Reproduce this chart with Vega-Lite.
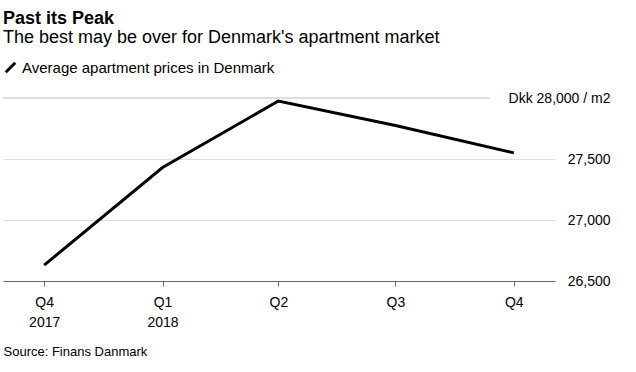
{
  "$schema": "https://vega.github.io/schema/vega-lite/v6.json",
  "width": 552,
  "height": 183,
  "autosize": "none",
  "padding": {"left": 3, "top": 98, "right": 81, "bottom": 91},
  "background": "white",
  "config": {
    "font": "Liberation Sans",
    "view": {"stroke": null}
  },
  "title": {
    "text": "Past its Peak",
    "subtitle": "The best may be over for Denmark's apartment market",
    "anchor": "start",
    "frame": "group",
    "fontSize": 18,
    "fontWeight": "bold",
    "color": "#000000",
    "subtitleFontSize": 18,
    "subtitleColor": "#000000",
    "subtitlePadding": 1,
    "offset": 13
  },
  "data": {
    "values": [
      {"date": "2017-10-01", "price": 26630, "series": "Average apartment prices in Denmark"},
      {"date": "2018-01-01", "price": 27430, "series": "Average apartment prices in Denmark"},
      {"date": "2018-04-01", "price": 27975, "series": "Average apartment prices in Denmark"},
      {"date": "2018-07-01", "price": 27775, "series": "Average apartment prices in Denmark"},
      {"date": "2018-10-01", "price": 27550, "series": "Average apartment prices in Denmark"}
    ]
  },
  "layer": [
    {
      "mark": {"type": "rule", "color": "#dddddd", "strokeWidth": 1},
      "encoding": {
        "y": {"datum": 28000, "type": "quantitative"},
        "x": {"datum": {"year": 2017, "month": 8, "date": 30, "utc": true}, "type": "temporal"},
        "x2": {"datum": {"year": 2018, "month": 9, "date": 12, "utc": true}}
      }
    },
    {
      "mark": {"type": "line", "strokeWidth": 3, "strokeJoin": "miter"},
      "encoding": {
        "x": {
          "field": "date",
          "type": "temporal",
          "scale": {
            "type": "utc",
            "domain": [
              {"year": 2017, "month": 8, "date": 30, "utc": true},
              {"year": 2018, "month": 11, "date": 2, "utc": true}
            ]
          },
          "axis": {
            "values": [
              {"year": 2017, "month": 10, "date": 1, "utc": true},
              {"year": 2018, "month": 1, "date": 1, "utc": true},
              {"year": 2018, "month": 4, "date": 1, "utc": true},
              {"year": 2018, "month": 7, "date": 1, "utc": true},
              {"year": 2018, "month": 10, "date": 1, "utc": true}
            ],
            "labelExpr": "[utcFormat(datum.value, 'Q%q'), utcFormat(datum.value, '%Y-%m') == '2017-10' ? '2017' : (utcFormat(datum.value, '%Y-%m') == '2018-01' ? '2018' : '')]",
            "labelFontSize": 14,
            "labelColor": "#000000",
            "labelLineHeight": 20,
            "labelPadding": 9,
            "labelBaseline": "top",
            "domainColor": "#666666",
            "tickColor": "#666666",
            "tickSize": 5,
            "grid": false,
            "title": "Source: Finans Danmark",
            "titleFontSize": 13,
            "titleFontWeight": "normal",
            "titleColor": "#000000",
            "titleAnchor": "start",
            "titleAlign": "left",
            "titleX": 0,
            "titlePadding": 16
          }
        },
        "y": {
          "field": "price",
          "type": "quantitative",
          "scale": {"domain": [26500, 28000], "zero": false, "nice": false},
          "axis": {
            "orient": "right",
            "values": [26500, 27000, 27500, 28000],
            "labelExpr": "datum.value == 28000 ? 'Dkk 28,000 / m2' : format(datum.value, ',')",
            "labelAlign": "right",
            "labelBaseline": "middle",
            "labelPadding": 55,
            "labelFontSize": 14,
            "labelColor": "#000000",
            "ticks": false,
            "domain": false,
            "grid": true,
            "gridColor": {"condition": {"test": "datum.value == 28000", "value": "transparent"}, "value": "#dddddd"},
            "title": null
          }
        },
        "color": {
          "field": "series",
          "type": "nominal",
          "scale": {"range": ["#000000"]},
          "legend": {
            "orient": "none",
            "legendX": 0,
            "legendY": -38,
            "title": null,
            "symbolType": "M-1,1L1,-1",
            "symbolSize": 90,
            "symbolStrokeWidth": 3,
            "labelFontSize": 15,
            "labelLimit": 0,
            "labelColor": "#000000",
            "labelOffset": 4
          }
        }
      }
    }
  ]
}
